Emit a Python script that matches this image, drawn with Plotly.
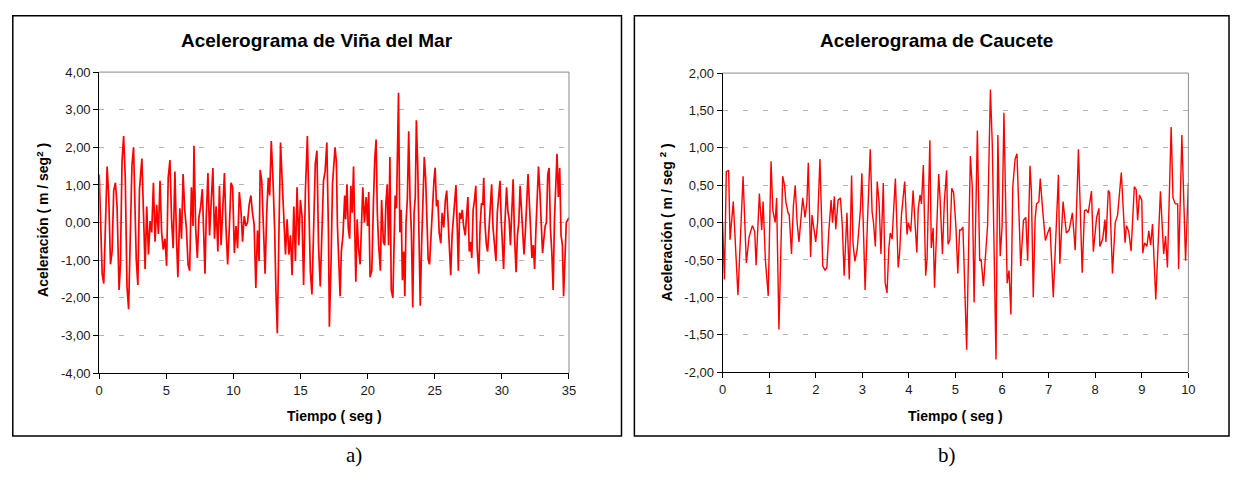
import plotly.graph_objects as go

# ---------------- data ----------------
left_t = [0.00, 0.22, 0.34, 0.39, 0.59, 0.71, 0.84, 0.96, 1.08, 1.21, 1.33, 1.48, 1.58, 1.70, 1.82, 1.94,
          2.07, 2.19, 2.31, 2.44, 2.56, 2.63, 2.76, 2.88, 3.00, 3.18, 3.30, 3.42, 3.54, 3.67, 3.79, 3.91,
          4.04, 4.16, 4.28, 4.41, 4.53, 4.65, 4.77, 4.90, 5.02, 5.14, 5.27, 5.39, 5.51, 5.64, 5.76, 5.86,
          6.01, 6.13, 6.25, 6.37, 6.50, 6.62, 6.74, 6.87, 6.99, 7.06, 7.19, 7.31, 7.43, 7.56, 7.68, 7.78,
          7.88, 7.97, 8.10, 8.22, 8.34, 8.47, 8.59, 8.71, 8.84, 8.96, 9.08, 9.21, 9.33, 9.45, 9.57, 9.70,
          9.82, 9.94, 10.07, 10.19, 10.31, 10.44, 10.56, 10.68, 10.80, 10.93, 11.05, 11.17, 11.30, 11.42,
          11.54, 11.67, 11.79, 11.91, 11.99, 12.11, 12.23, 12.36, 12.48, 12.60, 12.70, 12.82, 12.95, 13.07,
          13.17, 13.27, 13.39, 13.51, 13.63, 13.76, 13.88, 14.00, 14.13, 14.25, 14.37, 14.50, 14.62, 14.74,
          14.87, 14.99, 15.11, 15.23, 15.36, 15.51, 15.60, 15.73, 15.85, 15.97, 16.10, 16.22, 16.34, 16.47,
          16.59, 16.71, 16.83, 16.96, 17.08, 17.15, 17.28, 17.38,
          17.57, 17.67, 17.75, 17.87, 17.95, 18.04, 18.16, 18.29, 18.36, 18.46, 18.56, 18.66, 18.75, 18.85,
          18.95, 19.05, 19.12, 19.22, 19.32, 19.44, 19.54, 19.64, 19.76, 19.89, 19.99, 20.08, 20.18, 20.31,
          20.43, 20.53, 20.63, 20.72, 20.82, 20.95, 21.04, 21.17, 21.27, 21.36, 21.46, 21.56, 21.66, 21.76,
          21.88, 21.98, 22.05, 22.15, 22.22, 22.30, 22.40, 22.50, 22.59, 22.69, 22.77, 22.86, 22.96, 23.06,
          23.16, 23.26, 23.36, 23.46, 23.55, 23.63, 23.73, 23.82, 23.92, 24.02, 24.12, 24.22, 24.32, 24.41,
          24.51, 24.61, 24.71, 24.81, 24.94, 25.03, 25.13, 25.23, 25.33, 25.45, 25.55, 25.67, 25.79, 25.89,
          25.99, 26.09, 26.19, 26.29, 26.38, 26.48, 26.58, 26.68, 26.76, 26.85, 26.95, 27.05, 27.15, 27.27,
          27.37, 27.47, 27.57, 27.66, 27.76, 27.86, 27.96, 28.06, 28.16, 28.28, 28.38, 28.48, 28.58, 28.65,
          28.75, 28.85, 28.94, 29.04, 29.14, 29.24, 29.34, 29.44, 29.56, 29.66, 29.76, 29.86, 29.95, 30.05,
          30.13, 30.22, 30.35, 30.45, 30.54, 30.64, 30.74, 30.84, 30.94, 31.06, 31.16, 31.26, 31.36, 31.45,
          31.55, 31.65, 31.75, 31.85, 31.95, 32.04, 32.14, 32.24, 32.34, 32.44, 32.54, 32.64, 32.73, 32.83,
          32.93, 33.03, 33.13, 33.23, 33.32, 33.42, 33.52, 33.62, 33.72, 33.82, 33.92, 34.01, 34.11, 34.21,
          34.31, 34.41, 34.51, 34.60, 34.70, 34.80, 35.00]

left_a = [1.28, -1.36, -1.62, -0.98, 1.49, 0.68, -1.11, -0.77, 0.85, 1.06, 0.43, -1.79, -1.11, 1.62, 2.30, 1.19,
          -1.70, -2.30, -0.43, 1.53, 2.00, 0.68, -0.98, -1.66, 0.89, 1.70, -0.09, -1.23, 0.43, -0.85, 0.04, -0.26,
          1.06, -0.51, 0.47, -0.30, 1.11, -0.26, -0.72, -0.43, -1.15, 1.19, 1.66, 0.09, -0.68, 1.36, -0.43, -1.45,
          0.38, -0.43, 1.29, 0.34, -0.17, -1.11, -1.28, 0.94, -0.09, 2.04, -0.17, -0.94, 0.13, 0.43, 0.89, -0.09,
          -1.36, 0.09, 1.32, -0.34, 0.43, 1.45, -0.43, 0.43, -0.77, 0.98, -0.60, 0.43, 1.32, -0.17, -1.11, -0.09,
          1.06, 0.94, -0.81, -0.09, -0.68, 0.81, 0.34, -0.51, 0.17, -0.09, 0.00, 0.47, 0.72, 0.26,
          -0.04, -1.74, -0.21, -1.02, 1.40, 1.11, -0.09, -1.36, 0.26, 1.19, 0.72, 2.17, 1.11, -0.17,
          -1.87, -2.94, -0.26, 2.13, 1.11, 0.17, -0.85, 0.09, -0.85, -0.34, -1.40, 0.43, -1.02, 0.94,
          -0.60, 0.60, 0.17, -1.66, 0.81, 2.30, 1.02, -1.28, -1.91, 0.09, 1.57, 1.91, -0.60, -1.70,
          -0.17, 1.11, 1.36, 2.13, -0.26, -2.77, -0.94, 1.02,
          2.00, 1.62, -0.09, -1.19, -1.96, -0.77, -0.34, 0.72, 0.09, 1.02, -0.17, -0.43, 0.98, 0.26,
          1.49, -0.34, -1.57, 0.09, -0.68, -1.11, 0.00, 0.94, 0.00, 0.68, -0.09, 0.81, -1.45, -1.28,
          0.51, 1.70, 2.21, 0.26, -0.60, -1.28, 0.60, -0.51, -0.60, 0.51, 1.02, -0.60, 1.74, -1.79,
          -2.00, -0.55, 0.72, 0.38, 2.04, 3.45, -0.26, 0.34, -1.53, -0.77, -1.96, 0.00, 0.64, 2.43,
          0.60, -0.26, -2.26, 0.26, 0.68, 2.72, 1.53, -0.60, -2.21, -0.60, 0.43, 1.74, 1.19, 0.09,
          -0.98, -1.11, -0.34, 0.00, 1.11, 1.46, 0.43, 0.60, -0.26, -0.55, 0.26, -0.13, 0.60, 0.85,
          0.09, -0.43, -1.40, -0.34, 0.09, 0.43, 1.00, -0.17, -1.28, 0.26, 0.09, 0.34, -0.09, -0.34,
          0.34, 0.68, -0.77, -0.51, -0.94, 0.34, 0.60, 0.98, -0.68, -1.36, -0.09, 0.51, 0.47, 1.19,
          -0.09, -0.60, -0.77, -0.09, 0.43, 1.02, -0.13, -0.51, -1.02, 0.26, 0.85, 1.11, 0.09, -0.51,
          -1.23, -0.09, 0.94, 0.30, 0.09, -0.60, 0.26, 1.15, -0.34, -1.32, -0.34, 0.00, 0.98, 0.43,
          -0.51, -0.85, -0.26, 0.77, 1.29, 0.60, -0.09, -0.94, -0.60, -1.23, -0.17, 0.94, 1.49, 0.85,
          0.00, -0.81, -0.43, -0.09, 0.00, 1.28, 1.45, -0.17, -0.77, -1.79, 0.09, 1.11, 1.83, 0.68,
          1.45, -0.34, -0.60, -1.96, -1.11, 0.00, 0.13]

right_t = [0.00, 0.04, 0.08, 0.13, 0.16, 0.23, 0.33, 0.44, 0.51, 0.57,
           0.64, 0.69, 0.72, 0.79, 0.84, 0.87, 0.92, 0.98, 1.04, 1.08,
           1.13, 1.16, 1.21, 1.29, 1.33, 1.36, 1.41, 1.43, 1.48, 1.52,
           1.56, 1.60, 1.64, 1.68, 1.72, 1.77, 1.81, 1.84, 1.89, 1.92,
           1.97, 2.00, 2.04, 2.09, 2.12, 2.15, 2.20, 2.24, 2.28, 2.33,
           2.36, 2.40, 2.43, 2.48, 2.53, 2.57, 2.61, 2.67, 2.72, 2.77,
           2.80, 2.84, 2.89, 2.93, 2.96, 2.99, 3.02, 3.06, 3.11, 3.17,
           3.21, 3.24, 3.28, 3.32, 3.36, 3.40, 3.45, 3.49, 3.53, 3.57,
           3.60, 3.64, 3.67, 3.71, 3.77, 3.80, 3.84, 3.91, 3.96, 3.99,
           4.04, 4.09, 4.17, 4.20, 4.24, 4.27, 4.31, 4.36, 4.39, 4.45,
           4.48, 4.52, 4.55, 4.60, 4.64, 4.67, 4.72, 4.76, 4.81, 4.84,
           4.88, 4.92, 4.96, 5.01, 5.05,
           5.09, 5.12, 5.16, 5.24, 5.32, 5.36, 5.40, 5.47, 5.52, 5.55,
           5.60, 5.65, 5.69, 5.75, 5.79, 5.87, 5.91, 5.96, 6.00, 6.04,
           6.11, 6.15, 6.19, 6.23, 6.28, 6.32, 6.40, 6.46, 6.51, 6.55,
           6.60, 6.63, 6.67, 6.71, 6.74, 6.79, 6.82, 6.87, 6.93, 6.98,
           7.03, 7.10, 7.16, 7.21, 7.24, 7.31, 7.38, 7.44, 7.51, 7.57,
           7.64, 7.72, 7.77, 7.81, 7.85, 7.92, 7.96, 8.03, 8.08, 8.10,
           8.16, 8.21, 8.23, 8.28, 8.31, 8.37, 8.43, 8.48, 8.56, 8.64,
           8.67, 8.72, 8.77, 8.84, 8.88, 8.91, 8.95, 9.00, 9.02, 9.06,
           9.11, 9.15, 9.19, 9.23, 9.30, 9.40, 9.47, 9.51, 9.55, 9.63,
           9.67, 9.72, 9.77, 9.79, 9.86, 9.94, 10.00]

right_a = [0.00, -0.76, 0.68, 0.70, -0.23, 0.28, -0.97, 0.62, -0.54, -0.19,
           -0.04, -0.12, -0.57, 0.39, -0.10, 0.28, -0.51, -0.98, 0.82, 0.16,
           0.00, 0.33, -1.43, 0.62, 0.50, 0.27, 0.12, 0.11, -0.42, 0.22,
           0.50, 0.00, -0.26, 0.10, 0.33, 0.07, 0.27, 0.80, -0.46, 0.10,
           -0.12, -0.26, 0.00, 0.85, 0.18, -0.58, -0.64, -0.60, -0.12, 0.30,
           0.00, 0.35, -0.09, 0.30, 0.33, -0.04, -0.71, 0.13, -0.76, 0.63,
           -0.27, -0.52, -0.36, 0.00, 0.18, 0.66, -0.08, -0.90, 0.00, 0.98,
           0.14, 0.00, -0.32, 0.55, 0.27, -0.42, 0.53, -0.80, -0.94, -0.34,
           -0.14, -0.22, 0.14, 0.59, -0.60, -0.42, 0.10, 0.55, -0.16, 0.00,
           -0.12, 0.43, -0.40, 0.18, 0.37, 0.25, 0.77, -0.71, -0.49, 1.10,
           -0.34, -0.07, -0.87, -0.08, 0.65, 0.31, -0.42, 0.27, 0.70, -0.29,
           -0.23, 0.46, 0.40, -0.06, -0.68,
           -0.10, -0.10, -0.06, -1.70, 0.89, 0.48, -1.07, 1.23, -0.51, -0.49,
           -0.85, -0.40, -0.03, 1.78, 1.05, -1.83, 1.17, -0.45, -0.06, 1.47,
           -0.81, -0.64, -1.23, 0.48, 0.85, 0.92, -0.58, 0.03, 0.07, -0.51,
           0.76, 0.42, -1.00, 0.05, 0.25, 0.28, 0.59, 0.18, -0.24, -0.14,
           -0.06, -1.00, -0.12, 0.64, -0.55, 0.28, -0.14, -0.10, 0.13, -0.37,
           0.98, -0.67, 0.16, 0.17, 0.13, 0.42, -0.39, 0.07, 0.19, -0.32,
           -0.22, 0.04, -0.26, 0.43, 0.40, -0.68, 0.00, 0.10, 0.67, -0.27,
           -0.04, -0.12, -0.38, 0.48, 0.44, 0.03, 0.37, 0.30, -0.41, -0.27,
           -0.32, -0.11, -0.30, -0.02, -1.03, 0.42, -0.42, -0.18, -0.60, 1.28,
           0.33, 0.25, 0.25, -0.62, 1.17, -0.51, 0.53]

left_xticks = [0, 5, 10, 15, 20, 25, 30, 35]
right_xticks = [0, 1, 2, 3, 4, 5, 6, 7, 8, 9, 10]
left_yticks = [-4, -3, -2, -1, 0, 1, 2, 3, 4]
left_ylabels = ["-4,00", "-3,00", "-2,00", "-1,00", "0,00", "1,00", "2,00", "3,00", "4,00"]
right_yticks = [-2, -1.5, -1, -0.5, 0, 0.5, 1, 1.5, 2]
right_ylabels = ["-2,00", "-1,50", "-1,00", "-0,50", "0,00", "0,50", "1,00", "1,50", "2,00"]

title_left = "Acelerograma de Viña del Mar"
title_right = "Acelerograma de Caucete"
xtitle = "Tiempo ( seg )"
ytitle_left = "Aceleración ( m / seg<sup>2</sup> )"
ytitle_right = "Aceleración ( m / seg <sup>2</sup> )"

# ---------------- layout helpers ----------------
# The page body keeps its default 8px margin, so the figure is 16px smaller than
# the 1245x481 window and page coordinates are shifted by 8px.
PAGE_OFF = 8
W, H = 1245 - 2 * PAGE_OFF, 481 - 2 * PAGE_OFF


def px(x):
    return (x - PAGE_OFF) / W


def py(y):
    return 1 - (y - PAGE_OFF) / H


SANS = "Liberation Sans, Arial, sans-serif"
SERIF = "Liberation Serif, Times New Roman, serif"
RED = "#ff0000"

fig = go.Figure()
fig.add_trace(go.Scatter(x=left_t, y=left_a, mode="lines", xaxis="x", yaxis="y",
                         line=dict(color=RED, width=1.7), showlegend=False, hoverinfo="skip"))
fig.add_trace(go.Scatter(x=right_t, y=right_a, mode="lines", xaxis="x2", yaxis="y2",
                         line=dict(color=RED, width=1.4), showlegend=False, hoverinfo="skip"))

axis_common = dict(showline=True, linecolor="#000000", linewidth=1, ticks="outside", ticklen=5,
                   tickwidth=1, tickcolor="#000000", zeroline=False, fixedrange=True,
                   tickfont=dict(family=SANS, size=13, color="#1a1a1a"))
grid = dict(showgrid=True, gridcolor="#b4b4b4", gridwidth=1, griddash="5px,15px")

fig.update_layout(
    width=W, height=H, margin=dict(l=0, r=0, t=0, b=0), autosize=False,
    paper_bgcolor="white", plot_bgcolor="white", showlegend=False,
    xaxis=dict(domain=[px(96), px(570)], range=[0, 35], tickmode="array", tickvals=left_xticks,
               showgrid=False, anchor="y", **axis_common),
    yaxis=dict(domain=[py(378), py(67)], range=[-4, 4], tickmode="array", tickvals=left_yticks,
               ticktext=left_ylabels, anchor="x", **grid, **axis_common),
    xaxis2=dict(domain=[px(725), px(1195)], range=[0, 10], tickmode="array", tickvals=right_xticks,
                showgrid=False, anchor="y2", **axis_common),
    yaxis2=dict(domain=[py(377), py(68)], range=[-2, 2], tickmode="array", tickvals=right_yticks,
                ticktext=right_ylabels, anchor="x2", **grid, **axis_common),
)

shapes = []
# outer frames of both panels
for x0, x1 in [(8.8, 623), (636, 1236)]:
    shapes.append(dict(type="rect", xref="paper", yref="paper", x0=px(x0), x1=px(x1), y0=py(443), y1=py(8.8),
                       line=dict(color="#000000", width=1.5), fillcolor="rgba(0,0,0,0)", layer="above"))
# grey top and right edges of the plot areas
for xr, yr in [("x", "y"), ("x2", "y2")]:
    shapes.append(dict(type="line", xref=xr + " domain", yref=yr + " domain", x0=0, x1=1, y0=1, y1=1,
                       line=dict(color="#8c8c8c", width=1), layer="above"))
    shapes.append(dict(type="line", xref=xr + " domain", yref=yr + " domain", x0=1, x1=1, y0=0, y1=1,
                       line=dict(color="#8c8c8c", width=1), layer="above"))
fig.update_layout(shapes=shapes)

ann = []


def add_text(text, x, y, size, bold=True, angle=0, family=SANS):
    ann.append(dict(text=("<b>%s</b>" % text) if bold else text, x=px(x), y=py(y), xref="paper", yref="paper",
                    showarrow=False, xanchor="center", yanchor="middle", textangle=angle,
                    font=dict(family=family, size=size, color="#000000")))


add_text(title_left, 315.5, 34, 19)
add_text(title_right, 941, 34, 19)
add_text(xtitle, 333, 422, 14)
add_text(xtitle, 960, 422, 14)
add_text(ytitle_left, 39, 220, 14, angle=-90)
add_text(ytitle_right, 668, 222, 14, angle=-90)
add_text("a)", 353, 463, 21, bold=False, family=SERIF)
add_text("b)", 951, 463, 21, bold=False, family=SERIF)
fig.update_layout(annotations=ann)

fig.write_html("out.html", config={"displayModeBar": False})
